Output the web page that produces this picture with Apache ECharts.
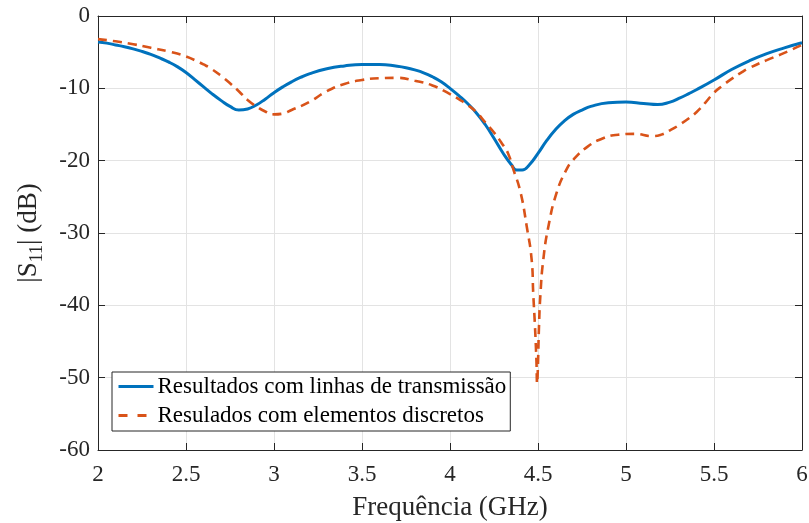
<!DOCTYPE html>
<html>
<head>
<meta charset="utf-8">
<script src="https://cdn.jsdelivr.net/npm/echarts@6/dist/echarts.min.js"></script>
<style>
  html, body { margin: 0; padding: 0; background: #fff; }
  #chart { width: 809px; height: 523px; }
</style>
</head>
<body>
<div id="chart"></div>
<script>
// Reflection coefficient |S11| versus frequency for the two matching networks.
const freqLines = [2.00, 2.05, 2.10, 2.15, 2.20, 2.25, 2.30, 2.35, 2.40, 2.45, 2.50, 2.55, 2.60, 2.65,
  2.70, 2.75, 2.80, 2.85, 2.90, 2.95, 3.00, 3.05, 3.10, 3.15, 3.20, 3.30, 3.40, 3.50, 3.60, 3.70,
  3.75, 3.80, 3.85, 3.90, 3.95, 4.00, 4.05, 4.10, 4.15, 4.20, 4.25, 4.30, 4.35, 4.38, 4.41, 4.45,
  4.50, 4.55, 4.60, 4.65, 4.70, 4.75, 4.80, 4.90, 5.00, 5.10, 5.18, 5.25, 5.30, 5.36, 5.40, 5.50,
  5.60, 5.70, 5.80, 5.90, 6.00];
const s11Lines = [-3.6, -3.75, -4.0, -4.25, -4.55, -4.9, -5.3, -5.8, -6.35, -7.0, -7.8, -8.8, -9.8, -10.8,
  -11.7, -12.5, -13.0, -12.85, -12.3, -11.5, -10.6, -9.8, -9.1, -8.5, -8.0, -7.3, -6.9, -6.7, -6.7, -6.95,
  -7.15, -7.45, -7.85, -8.4, -9.1, -10.0, -11.0, -12.1, -13.4, -15.0, -16.9, -18.9, -20.6, -21.3, -21.3, -20.6,
  -19.0, -17.2, -15.7, -14.5, -13.6, -13.0, -12.5, -12.0, -11.9, -12.1, -12.25, -11.9, -11.4, -10.7, -10.2, -8.85,
  -7.4, -6.2, -5.2, -4.4, -3.7];

const freqDiscrete = [2.00, 2.10, 2.20, 2.30, 2.40, 2.45, 2.50, 2.55, 2.60, 2.65, 2.70, 2.75, 2.80, 2.85,
  2.90, 2.95, 3.00, 3.05, 3.10, 3.20, 3.30, 3.40, 3.50, 3.60, 3.70, 3.80, 3.90, 4.00, 4.05, 4.10,
  4.15, 4.20, 4.25, 4.30, 4.33, 4.36, 4.40, 4.436, 4.464, 4.473, 4.483, 4.491, 4.495, 4.500, 4.505,
  4.514, 4.530, 4.559, 4.605, 4.66, 4.70, 4.78, 4.87, 4.96, 5.05, 5.15, 5.20, 5.25, 5.30, 5.36,
  5.40, 5.45, 5.50, 5.55, 5.60, 5.65, 5.70, 5.80, 5.90, 6.00];
const s11Discrete = [-3.2, -3.5, -3.9, -4.4, -4.9, -5.2, -5.6, -6.1, -6.7, -7.4, -8.3, -9.3, -10.4, -11.6,
  -12.5, -13.2, -13.6, -13.5, -13.0, -11.9, -10.4, -9.4, -8.85, -8.6, -8.55, -8.95, -9.6, -10.8, -11.5, -12.3,
  -13.3, -14.7, -16.1, -17.8, -19.0, -21.2, -24.3, -29.1, -33.7, -38.4, -43.0, -47.6, -50.8, -48.0, -43.4,
  -38.4, -33.7, -29.1, -24.5, -21.3, -19.9, -18.1, -16.9, -16.4, -16.3, -16.6, -16.4, -15.8, -15.1, -14.1,
  -13.3, -12.0, -10.6, -9.6, -8.7, -7.9, -7.2, -6.1, -5.1, -4.0];

const seriesNames = ['Resultados com linhas de transmissão', 'Resulados com elementos discretos'];
const xTicks = { min: 2, max: 6, step: 0.5 };
const yTicks = { min: -60, max: 0, step: 10 };

const pair = (xs, ys) => xs.map((x, i) => [x, ys[i]]);

const FONT = 'Liberation Serif';
const AXIS_COLOR = '#262626';
const GRID_COLOR = '#e3e3e3';
const BLUE = '#0072BD';
const ORANGE = '#D95319';

const chart = echarts.init(document.getElementById('chart'), null, { renderer: 'canvas' });

// top and right frame edges with inward ticks, no labels
const boxAxis = {
  axisLine: { show: true, onZero: false, lineStyle: { color: AXIS_COLOR, width: 1 } },
  axisTick: { show: true, inside: true, length: 7, lineStyle: { color: AXIS_COLOR } },
  axisLabel: { show: false },
  splitLine: { show: false }
};

chart.setOption({
  animation: false,
  backgroundColor: '#ffffff',
  textStyle: { fontFamily: FONT },
  grid: { left: 98, right: 7, top: 16, bottom: 73, containLabel: false, outerBoundsMode: 'none' },
  xAxis: [{
    type: 'value', position: 'bottom',
    min: xTicks.min, max: xTicks.max, interval: xTicks.step,
    name: 'Frequência (GHz)', nameLocation: 'middle', nameGap: 44,
    nameTextStyle: { fontFamily: FONT, fontSize: 27, color: AXIS_COLOR },
    axisLine: { show: true, onZero: false, lineStyle: { color: AXIS_COLOR, width: 1 } },
    axisTick: { show: true, inside: true, length: 7, lineStyle: { color: AXIS_COLOR } },
    axisLabel: { fontFamily: FONT, fontSize: 23, color: AXIS_COLOR, margin: 13 },
    splitLine: { show: true, lineStyle: { color: GRID_COLOR, width: 1 } }
  }, Object.assign({
    type: 'value', position: 'top',
    min: xTicks.min, max: xTicks.max, interval: xTicks.step
  }, boxAxis)],
  yAxis: [{
    type: 'value', position: 'left',
    min: yTicks.min, max: yTicks.max, interval: yTicks.step,
    name: '|S{sub|11}| (dB)', nameLocation: 'middle', nameGap: 52, nameRotate: 90,
    nameTextStyle: {
      fontFamily: FONT, fontSize: 27, color: AXIS_COLOR,
      rich: { sub: { fontFamily: FONT, fontSize: 18, color: AXIS_COLOR, padding: [16, 0, 0, 0] } }
    },
    axisLine: { show: true, onZero: false, lineStyle: { color: AXIS_COLOR, width: 1 } },
    axisTick: { show: true, inside: true, length: 7, lineStyle: { color: AXIS_COLOR } },
    axisLabel: { fontFamily: FONT, fontSize: 23, color: AXIS_COLOR, margin: 8 },
    splitLine: { show: true, lineStyle: { color: GRID_COLOR, width: 1 } }
  }, Object.assign({
    type: 'value', position: 'right',
    min: yTicks.min, max: yTicks.max, interval: yTicks.step
  }, boxAxis)],
  legend: {
    orient: 'vertical',
    left: 112, top: 372,
    padding: [2, 4, 3, 5],
    itemWidth: 35, itemHeight: 20, itemGap: 4,
    backgroundColor: '#ffffff',
    borderColor: '#262626', borderWidth: 1, borderRadius: 0,
    itemStyle: { opacity: 0 },
    textStyle: { fontFamily: FONT, fontSize: 23, lineHeight: 25, color: '#000000', padding: [0, 0, 0, -1] },
    data: [
      { name: seriesNames[0], itemStyle: { opacity: 0 }, lineStyle: { width: 3, type: 'solid' } },
      { name: seriesNames[1], itemStyle: { opacity: 0 }, lineStyle: { width: 3, type: [9, 10] } }
    ]
  },
  series: [{
    name: seriesNames[0],
    type: 'line',
    data: pair(freqLines, s11Lines),
    smooth: 0.5,
    symbol: 'none', showSymbol: false,
    lineStyle: { color: BLUE, width: 3 },
    itemStyle: { color: BLUE },
    z: 3
  }, {
    name: seriesNames[1],
    type: 'line',
    data: pair(freqDiscrete, s11Discrete),
    smooth: 0.5,
    symbol: 'none', showSymbol: false,
    lineStyle: { color: ORANGE, width: 2.6, type: [9, 6] },
    itemStyle: { color: ORANGE },
    z: 4
  }]
});
</script>
</body>
</html>
